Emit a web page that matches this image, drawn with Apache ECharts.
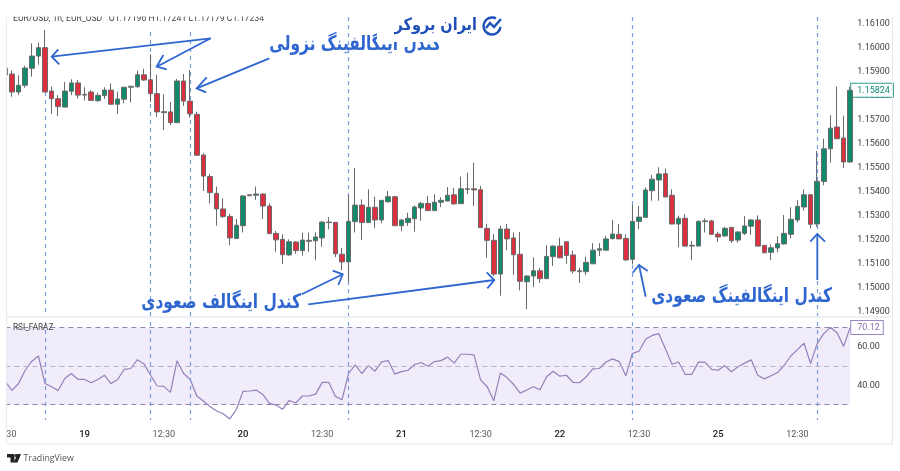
<!DOCTYPE html>
<html>
<head>
<meta charset="utf-8">
<title>EUR/USD</title>
<script src="https://cdn.jsdelivr.net/npm/echarts@6/dist/echarts.min.js"></script>
<style>
html, body { margin: 0; padding: 0; background: #fff; }
#chart { width: 900px; height: 471px; }
</style>
</head>
<body>
<div id="chart"></div>
<script>
// hourly candles, first one is the bar cut off by the left edge
var opens = [1.15917,
    1.15892,1.15817,1.15845,1.15916,1.15967,1.16002,1.15821,1.15789,1.15754,1.15820,
    1.15855,1.15807,1.15817,1.15781,1.15802,1.15825,1.15766,1.15787,1.15837,1.15839,
    1.15889,1.15868,1.15810,1.15735,1.15734,1.15689,1.15863,1.15779,1.15724,1.15554,
    1.15464,1.15394,1.15329,1.15298,1.15206,1.15259,1.15388,1.15386,1.15391,1.15341,
    1.15227,1.15202,1.15137,1.15191,1.15155,1.15194,1.15196,1.15208,1.15274,1.15273,
    1.15140,1.15108,1.15276,1.15345,1.15272,1.15336,1.15283,1.15359,1.15380,1.15259,
    1.15272,1.15288,1.15333,1.15352,1.15322,1.15357,1.15362,1.15388,1.15351,1.15411,
    1.15413,1.15409,1.15248,1.15198,1.15057,1.15245,1.15208,1.15140,1.15025,1.15049,
    1.15071,1.15038,1.15130,1.15174,1.15192,1.15137,1.15071,1.15067,1.15100,1.15157,
    1.15157,1.15205,1.15223,1.15206,1.15119,1.15277,1.15294,1.15405,1.15450,1.15476,
    1.15386,1.15266,1.15290,1.15174,1.15174,1.15276,1.15279,1.15224,1.15216,1.15252,
    1.15199,1.15227,1.15257,1.15283,1.15177,1.15148,1.15166,1.15183,1.15223,1.15283,
    1.15337,1.15388,1.15266,1.15444,1.15580,1.15671,1.15625,1.15525];
var closes = [1.15888,
    1.15817,1.15845,1.15917,1.15967,1.16002,1.15817,1.15789,1.15756,1.15821,1.15855,
    1.15804,1.15804,1.15782,1.15803,1.15825,1.15766,1.15788,1.15837,1.15841,1.15889,
    1.15867,1.15810,1.15734,1.15731,1.15689,1.15863,1.15779,1.15726,1.15553,1.15466,
    1.15397,1.15329,1.15297,1.15208,1.15261,1.15383,1.15384,1.15391,1.15341,1.15226,
    1.15200,1.15138,1.15192,1.15155,1.15199,1.15198,1.15212,1.15274,1.15272,1.15142,
    1.15108,1.15277,1.15345,1.15272,1.15336,1.15283,1.15365,1.15380,1.15259,1.15283,
    1.15290,1.15337,1.15352,1.15322,1.15357,1.15365,1.15386,1.15350,1.15413,1.15413,
    1.15408,1.15251,1.15198,1.15057,1.15245,1.15204,1.15138,1.15027,1.15049,1.15071,
    1.15038,1.15131,1.15174,1.15125,1.15135,1.15070,1.15067,1.15106,1.15157,1.15163,
    1.15204,1.15224,1.15204,1.15116,1.15277,1.15295,1.15408,1.15453,1.15475,1.15379,
    1.15266,1.15290,1.15174,1.15177,1.15277,1.15279,1.15223,1.15212,1.15248,1.15196,
    1.15233,1.15258,1.15283,1.15174,1.15146,1.15167,1.15184,1.15227,1.15286,1.15340,
    1.15388,1.15265,1.15444,1.15580,1.15666,1.15622,1.15525,1.15824];
var lows = [1.15880,
    1.15797,1.15804,1.15835,1.15881,1.15931,1.15817,1.15726,1.15717,1.15753,1.15804,
    1.15789,1.15781,1.15779,1.15776,1.15788,1.15762,1.15726,1.15770,1.15774,1.15835,
    1.15864,1.15775,1.15714,1.15658,1.15678,1.15688,1.15759,1.15710,1.15551,1.15404,
    1.15352,1.15259,1.15291,1.15178,1.15205,1.15231,1.15383,1.15366,1.15287,1.15224,
    1.15150,1.15100,1.15134,1.15142,1.15134,1.15150,1.15115,1.15171,1.15244,1.15128,
    1.15073,1.15023,1.15231,1.15200,1.15272,1.15249,1.15269,1.15355,1.15259,1.15237,
    1.15258,1.15234,1.15280,1.15320,1.15320,1.15337,1.15361,1.15347,1.15351,1.15390,
    1.15341,1.15251,1.15125,1.15049,1.14967,1.15156,1.15054,1.14989,1.14911,1.15003,
    1.15020,1.15038,1.15091,1.15124,1.15100,1.15060,1.15020,1.15053,1.15100,1.15133,
    1.15155,1.15202,1.15202,1.15113,1.15098,1.15245,1.15292,1.15363,1.15363,1.15377,
    1.15265,1.15169,1.15171,1.15116,1.15174,1.15231,1.15221,1.15192,1.15213,1.15187,
    1.15188,1.15220,1.15221,1.15173,1.15144,1.15116,1.15148,1.15180,1.15206,1.15272,
    1.15322,1.15247,1.15254,1.15428,1.15522,1.15620,1.15500,1.15522];
var highs = [1.15925,
    1.15906,1.15887,1.15926,1.16020,1.16023,1.16076,1.15839,1.15804,1.15859,1.15870,
    1.15867,1.15837,1.15825,1.15814,1.15837,1.15853,1.15818,1.15839,1.15842,1.15906,
    1.15914,1.15974,1.15889,1.15807,1.15775,1.15871,1.15892,1.15909,1.15735,1.15561,
    1.15476,1.15422,1.15373,1.15308,1.15287,1.15387,1.15390,1.15423,1.15394,1.15352,
    1.15237,1.15223,1.15202,1.15195,1.15230,1.15230,1.15231,1.15279,1.15295,1.15274,
    1.15167,1.15387,1.15499,1.15369,1.15411,1.15380,1.15366,1.15404,1.15384,1.15286,
    1.15313,1.15344,1.15359,1.15383,1.15390,1.15378,1.15420,1.15416,1.15464,1.15480,
    1.15522,1.15425,1.15267,1.15224,1.15258,1.15267,1.15231,1.15233,1.15053,1.15127,
    1.15082,1.15177,1.15177,1.15209,1.15194,1.15155,1.15084,1.15130,1.15186,1.15186,
    1.15217,1.15283,1.15267,1.15223,1.15347,1.15341,1.15419,1.15471,1.15503,1.15497,
    1.15411,1.15301,1.15307,1.15195,1.15282,1.15290,1.15283,1.15234,1.15255,1.15254,
    1.15234,1.15299,1.15287,1.15302,1.15178,1.15181,1.15215,1.15304,1.15336,1.15366,
    1.15411,1.15390,1.15571,1.15622,1.15720,1.15839,1.15718,1.15839];
var rsi = [42,
    37.4,41,47.9,52.6,55.3,41,39.3,37.4,43.6,46.2,
    43.1,43.1,41.4,43.1,45.3,41,43.1,48.3,48.8,53.4,
    51.2,45.3,39.7,39.5,36.4,52.8,46.2,43.1,34.5,31.9,
    29,26.7,25.3,22.6,27.6,36.9,37.1,37.6,35.3,30.7,
    29.8,27.6,32.2,30.9,34.5,34.5,35.5,41.6,41.6,34.3,
    32.6,46.2,50.7,46.2,50.3,47.4,52.2,52.9,45.9,47.2,
    47.9,50.9,51.9,50,52.4,52.9,54.7,51.6,56.2,56.2,
    55.9,42.9,39.3,32.1,46.4,44.1,40.5,36,37.6,39.3,
    37.8,44.5,47.4,44.8,45.3,41.6,41.4,44.5,48.6,48.8,
    52.2,53.8,52.4,45,56.6,57.8,64,66,66.9,59.1,
    51,52.2,45.7,45.7,52.1,52.1,48.3,47.9,50.3,47.1,
    49.7,51.6,53.3,45.3,43.4,45,46.7,50.5,55.3,58.6,
    61.9,51.4,61.7,66.9,70.2,67.4,60.3,70.12];

// one label every 12 bars
var tickLabels = ['30', '19', '12:30', '20', '12:30', '21', '12:30', '22', '12:30', '25', '12:30'];
var priceTicks = [1.161, 1.16, 1.159, 1.158, 1.157, 1.156, 1.155, 1.154, 1.153, 1.152, 1.151, 1.15, 1.149];
var rsiTicks = [40, 60];
var lastPrice = 1.15824;
var lastRsi = 70.12;
var signalBars = [6, 22, 28, 52, 95, 123];
var signalTops = [1.15817, 1.16067, 1.16067, 1.1613, 1.1613, 1.1613];

var RED = '#dc3040';
var GREEN = '#0f8a6a';
var BLUE = '#2f66d0';
var PERSIAN = '"DejaVu Sans", sans-serif';
var AXIS_FONT = 'Roboto';

var categories = closes.map(function (v, i) {
    return i % 12 === 0 ? tickLabels[i / 12] : '';
});
var candles = closes.map(function (v, i) {
    return [opens[i], closes[i], lows[i], highs[i]];
});

// [start, tip, wing, wing]
var arrows = [
    [[210.7, 38.3], [51.7, 56.7], [58.3, 49.3], [59.3, 64.3]],
    [[210.7, 38.3], [156.7, 66.7], [163.3, 55], [166.7, 69.3]],
    [[269.3, 58.3], [196.7, 88.3], [206.7, 77.3], [206, 92.3]],
    [[301.7, 294.3], [342.7, 274.3], [332.7, 270.7], [338.3, 285]],
    [[308.3, 304.3], [494.3, 280], [486.7, 272.3], [487.3, 288.3]],
    [[645.7, 296.7], [639, 265], [632.7, 272.7], [647.7, 271]],
    [[817.3, 280], [817.3, 234], [810.3, 241.7], [825, 241.7]]
];

function whiteBox(x, y, w, h, z) {
    return {type: 'rect', z: z, silent: true, shape: {x: x, y: y, width: w, height: h}, style: {fill: '#fff'}};
}
function border(x1, y1, x2, y2, width, color) {
    return {type: 'line', z: 60, silent: true, shape: {x1: x1, y1: y1, x2: x2, y2: y2}, style: {stroke: color, lineWidth: width}};
}
function note(text, right, y) {
    return {
        type: 'text', z: 70, silent: true, x: right, y: y, scaleX: 0.77,
        style: {text: text, fill: BLUE, font: 'bold 20px ' + PERSIAN, textAlign: 'right', textVerticalAlign: 'middle'}
    };
}

var graphics = [
    whiteBox(0, 17, 6.5, 427, 50),
    whiteBox(7, 420, 843, 3, 50),
    border(6.7, 17, 6.7, 444, 1, '#e6e8ee'),
    border(7, 317, 893, 317, 2, '#eef0f5'),
    border(7, 444, 893, 444, 1, '#e6e8ee'),
    border(892.5, 17, 892.5, 444, 1, '#e6e8ee'),
    // header is cut by the top of the screenshot
    {
        type: 'text', z: 60, silent: true, x: 13, y: 23,
        style: {text: 'EUR/USD, 1h, EUR_USD   O1.17196 H1.17241 L1.17179 C1.17234', fill: '#444', font: '8.7px Roboto, sans-serif', textVerticalAlign: 'bottom'}
    },
    whiteBox(0, 0, 900, 16.5, 61),
    {
        type: 'text', z: 60, silent: true, x: 13, y: 328,
        style: {text: 'RSI_FARAZ', fill: '#444', font: '8.2px Roboto, sans-serif', textVerticalAlign: 'middle'}
    },
    note('کندل اینگالفینگ نزولی', 441, 45),
    whiteBox(377, 0, 70, 42, 71),
    note('کندل اینگالف صعودی', 301, 303),
    note('کندل اینگالفینگ صعودی', 832, 297),
    // logo
    {
        type: 'text', z: 75, silent: true, x: 477, y: 26, scaleX: 0.85,
        style: {text: 'ایران بروکر', fill: '#1f4fb8', font: 'bold 17px ' + PERSIAN, textAlign: 'right', textVerticalAlign: 'middle'}
    },
    {
        type: 'arc', z: 75, silent: true,
        shape: {cx: 492, cy: 26, r: 8.5, startAngle: 0.1, endAngle: 5.2},
        style: {stroke: '#1f4fb8', lineWidth: 2.4, fill: null}
    },
    {
        type: 'polyline', z: 75, silent: true,
        shape: {points: [[486, 28], [490, 23], [494, 27], [501, 19]]},
        style: {stroke: '#1f4fb8', lineWidth: 2.4, fill: null}
    },
    // TradingView mark
    {
        type: 'polygon', z: 60, silent: true,
        shape: {points: [[7, 454], [14.5, 454], [14.5, 462.5], [10.5, 462.5], [10.5, 457.5], [7, 457.5]]},
        style: {fill: '#222'}
    },
    {type: 'circle', z: 60, silent: true, shape: {cx: 16.3, cy: 455.6, r: 1.6}, style: {fill: '#222'}},
    {
        type: 'polygon', z: 60, silent: true,
        shape: {points: [[17.5, 454], [21, 454], [17.5, 462.5], [13.8, 462.5]]},
        style: {fill: '#222'}
    },
    {
        type: 'text', z: 60, silent: true, x: 23.5, y: 458,
        style: {text: 'TradingView', fill: '#555', font: '8.8px "Open Sans", sans-serif', textVerticalAlign: 'middle'}
    }
];
arrows.forEach(function (a) {
    graphics.push({
        type: 'line', z: 72, silent: true,
        shape: {x1: a[0][0], y1: a[0][1], x2: a[1][0], y2: a[1][1]},
        style: {stroke: BLUE, lineWidth: 1.8}
    });
    graphics.push({
        type: 'polyline', z: 72, silent: true,
        shape: {points: [a[2], a[1], a[3]]},
        style: {stroke: BLUE, lineWidth: 1.8, fill: null}
    });
});

var signalStyle = {color: '#7d9bdf', type: [4, 4], width: 1.2};
var priceSignalLines = signalBars.map(function (b, i) {
    return [{xAxis: b, yAxis: signalTops[i], lineStyle: signalStyle}, {xAxis: b, yAxis: 1.14878}];
});
var rsiSignalLines = signalBars.map(function (b) {
    return {xAxis: b, lineStyle: signalStyle};
});

var chart = echarts.init(document.getElementById('chart'), null, {renderer: 'canvas'});
var option = {
    animation: false,
    backgroundColor: '#fff',
    grid: [
        {left: 5.4, width: 844.8, top: 17, height: 300},
        {left: 5.4, width: 844.8, top: 318, height: 104}
    ],
    xAxis: [
        {
            type: 'category', gridIndex: 0, data: categories, boundaryGap: false,
            axisLine: {show: false}, axisTick: {show: false}, axisLabel: {show: false}, splitLine: {show: false}
        },
        {
            type: 'category', gridIndex: 1, data: categories, boundaryGap: false,
            axisLine: {show: false}, axisTick: {show: false}, splitLine: {show: false},
            axisLabel: {
                interval: 11,
                margin: 8,
                formatter: function (value, index) {
                    if (value === '') return '';
                    if (index === 0) return '{first|' + value + '}';
                    return (value.indexOf(':') > 0 ? '{time|' : '{day|') + value + '}';
                },
                rich: {
                    first: {fontFamily: AXIS_FONT, fontSize: 9, color: '#555', padding: [0, 0, 0, 12]},
                    time: {fontFamily: AXIS_FONT, fontSize: 9, color: '#555'},
                    day: {fontFamily: AXIS_FONT, fontSize: 9.5, fontWeight: 500, color: '#222'}
                }
            }
        }
    ],
    yAxis: [
        {
            type: 'value', gridIndex: 0, position: 'right', min: 1.14878, max: 1.1613,
            axisLine: {show: false}, axisTick: {show: false}, splitLine: {show: false},
            axisLabel: {
                customValues: priceTicks.concat([lastPrice]),
                margin: 1,
                formatter: function (value) {
                    return (value === lastPrice ? '{last|' : '{tick|') + value.toFixed(5) + '}';
                },
                rich: {
                    tick: {fontFamily: AXIS_FONT, fontSize: 9, color: '#444', padding: [0, 0, 0, 6]},
                    last: {
                        fontFamily: AXIS_FONT, fontSize: 9, color: '#0f8a76', backgroundColor: '#fff',
                        borderColor: '#2e9c8a', borderWidth: 1, padding: [2, 3, 2, 6]
                    }
                }
            }
        },
        {
            type: 'value', gridIndex: 1, position: 'right', min: 21, max: 75.04,
            axisLine: {show: false}, axisTick: {show: false}, splitLine: {show: false},
            axisLabel: {
                customValues: rsiTicks.concat([lastRsi]),
                margin: 1,
                formatter: function (value) {
                    return (value === lastRsi ? '{last|' : '{tick|') + value.toFixed(2) + '}';
                },
                rich: {
                    tick: {fontFamily: AXIS_FONT, fontSize: 9, color: '#444', padding: [0, 0, 0, 6]},
                    last: {
                        fontFamily: AXIS_FONT, fontSize: 9, color: '#8a6fb0', backgroundColor: '#fff',
                        borderColor: '#9a86c0', borderWidth: 1, padding: [2, 3, 2, 6]
                    }
                }
            }
        }
    ],
    series: [
        {
            type: 'candlestick',
            xAxisIndex: 0,
            yAxisIndex: 0,
            data: candles,
            barWidth: 5,
            itemStyle: {color: GREEN, color0: RED, borderColor: '#6a6a6a', borderColor0: '#6a6a6a', borderWidth: 1},
            markLine: {
                silent: true, symbol: 'none', animation: false, label: {show: false}, z: 1,
                data: priceSignalLines
            }
        },
        {
            type: 'line',
            xAxisIndex: 1,
            yAxisIndex: 1,
            data: rsi,
            symbol: 'none',
            lineStyle: {color: '#9580ba', width: 1.2},
            markArea: {
                silent: true,
                itemStyle: {color: '#f1ecf9'},
                data: [[{yAxis: 30}, {yAxis: 70}]]
            },
            markLine: {
                silent: true, symbol: 'none', animation: false, label: {show: false},
                data: [
                    {yAxis: 70, lineStyle: {color: '#8d86a8', type: [5, 4], width: 1}},
                    {yAxis: 50, lineStyle: {color: '#b6b0c8', type: [5, 4], width: 1}},
                    {yAxis: 30, lineStyle: {color: '#8d86a8', type: [5, 4], width: 1}}
                ].concat(rsiSignalLines)
            }
        }
    ],
    graphic: graphics
};
chart.setOption(option);
</script>
</body>
</html>
